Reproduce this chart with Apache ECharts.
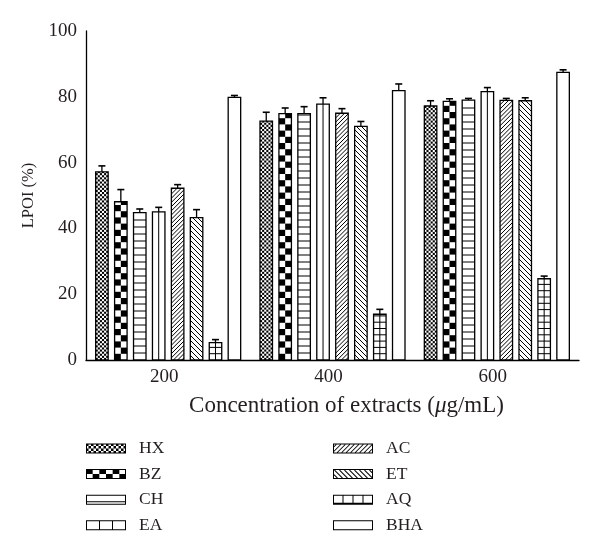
<!DOCTYPE html>
<html><head><meta charset="utf-8">
<script src="https://cdn.jsdelivr.net/npm/echarts@6/dist/echarts.min.js"></script>
<style>html,body{margin:0;padding:0;background:#fff}#c{width:600px;height:559px}</style>
</head><body><div id="c"></div>
<script>
// ---- data ----
var categories = ['200', '400', '600'];
var seriesNames = ['HX', 'BZ', 'CH', 'EA', 'AC', 'ET', 'AQ', 'BHA'];
var HX  = [57.2, 72.6, 77.2]; var HX_err  = [1.8, 2.7, 1.6];
var BZ  = [48.1, 74.9, 78.6]; var BZ_err  = [3.7, 1.7, 0.8];
var CH  = [44.8, 74.9, 79.0]; var CH_err  = [1.1, 2.1, 0.5];
var EA  = [45.0, 77.8, 81.6]; var EA_err  = [1.4, 1.9, 1.2];
var AC  = [52.2, 75.0, 78.9]; var AC_err  = [1.1, 1.4, 0.6];
var ET  = [43.3, 71.0, 78.8]; var ET_err  = [2.4, 1.5, 0.9];
var AQ  = [5.3, 13.9, 24.7];  var AQ_err  = [0.9, 1.5, 0.8];
var BHA = [79.8, 81.9, 87.4]; var BHA_err = [0.6, 2.0, 0.8];
var yTickMin = 0, yTickMax = 100, yTickStep = 20;

var seriesValues = [HX, BZ, CH, EA, AC, ET, AQ, BHA];
var seriesErrors = [HX_err, BZ_err, CH_err, EA_err, AC_err, ET_err, AQ_err, BHA_err];

// ---- style ----
var FONT = '"Liberation Serif", "DejaVu Serif", serif';
var INK = '#231f20';
var BAR_W = 0.076, PITCH = 0.1152;

function ln(x1, y1, x2, y2, w) {
  return {type: 'line', shape: {x1: x1, y1: y1, x2: x2, y2: y2}, style: {stroke: '#000', lineWidth: w || 1}};
}
function rc(x, y, w, h) {
  return {type: 'rect', shape: {x: x, y: y, width: w, height: h}, style: {fill: '#000'}};
}
function checker(x0, x1, yt, yb, sw, sh) {
  var out = [];
  for (var r = 0; yb - r * sh > yt + 0.01; r++) {
    var yB = yb - r * sh, yT = Math.max(yb - (r + 1) * sh, yt);
    for (var c = 0; x0 + c * sw < x1 - 0.01; c++) {
      if ((r + c) % 2) continue;
      var xL = x0 + c * sw, xR = Math.min(xL + sw, x1);
      out.push(rc(xL, yT, xR - xL, yB - yT));
    }
  }
  return out;
}
function hlines(x0, x1, yt, yb, sp) {
  var out = [];
  for (var y = yb - sp; y > yt + 1; y -= sp) out.push(ln(x0, y, x1, y, 1));
  return out;
}
function diagF(x0, x1, yt, yb, sp) { // "/"  x + y = k
  var out = [];
  for (var k = Math.ceil((x0 + yt) / sp) * sp; k < x1 + yb; k += sp) {
    var xa = Math.max(x0, k - yb), xb = Math.min(x1, k - yt);
    if (xb - xa > 0.3) out.push(ln(xa, k - xa, xb, k - xb, 1));
  }
  return out;
}
function diagB(x0, x1, yt, yb, sp) { // "\"  y = x + k
  var out = [];
  for (var k = Math.ceil((yt - x1) / sp) * sp; k < yb - x0; k += sp) {
    var xa = Math.max(x0, yt - k), xb = Math.min(x1, yb - k);
    if (xb - xa > 0.3) out.push(ln(xa, xa + k, xb, xb + k, 1));
  }
  return out;
}
var barPatterns = [
  function (x0, x1, yt, yb) { return checker(x0, x1, yt, yb, 2.1, 2.1); },
  function (x0, x1, yt, yb) { return checker(x0, x1, yt, yb, (x1 - x0) / 2, 6.2); },
  function (x0, x1, yt, yb) { return hlines(x0, x1, yt, yb, 7); },
  function (x0, x1, yt, yb) { var cx = (x0 + x1) / 2; return [ln(cx, yt, cx, yb, 1)]; },
  function (x0, x1, yt, yb) { return diagF(x0, x1, yt, yb, 4.2); },
  function (x0, x1, yt, yb) { return diagB(x0, x1, yt, yb, 5); },
  function (x0, x1, yt, yb) { var cx = (x0 + x1) / 2; return hlines(x0, x1, yt, yb, 6.3).concat([ln(cx, yt, cx, yb, 1)]); },
  function () { return []; }
];

function makeRender(si) {
  return function (params, api) {
    var cat = api.value(0), val = api.value(1), err = api.value(2);
    var band = api.size([1, 0])[0];
    var base = api.coord([cat, 0]);
    var bw = band * BAR_W;
    var cx = base[0] + (si - 3.5) * band * PITCH;
    var x0 = cx - bw / 2, x1 = cx + bw / 2;
    var yb = base[1], yt = api.coord([cat, val])[1], ye = api.coord([cat, val + err])[1];
    var children = [{type: 'rect', shape: {x: x0, y: yt, width: bw, height: yb - yt}, style: {fill: '#fff'}}];
    children = children.concat(barPatterns[si](x0, x1, yt, yb));
    children.push({type: 'rect', shape: {x: x0, y: yt, width: bw, height: yb - yt}, style: {fill: 'none', stroke: '#000', lineWidth: 1.3}});
    children.push(ln(cx, yt, cx, ye, 1.3));
    children.push(ln(cx - 3.5, ye, cx + 3.5, ye, 1.6));
    return {type: 'group', children: children};
  };
}

// ---- legend icons (path) ----
var IW = 40, IH = 10;
function P(x, y, w, h) { return 'M' + x + ' ' + y + 'L' + (x + w) + ' ' + y + 'L' + (x + w) + ' ' + (y + h) + 'L' + x + ' ' + (y + h) + 'Z'; }
function border(b) { b = b || 1; return P(0, 0, IW, 1) + P(0, IH - b, IW, b) + P(0, 0, 1, IH) + P(IW - 1, 0, 1, IH); }
function quad(xa, ya, xb, yb, w) {
  var dx = xb - xa, dy = yb - ya, L = Math.sqrt(dx * dx + dy * dy);
  var nx = -dy / L * w / 2, ny = dx / L * w / 2;
  var pts = [[xa + nx, ya + ny], [xb + nx, yb + ny], [xb - nx, yb - ny], [xa - nx, ya - ny]];
  var a = 0;
  for (var i = 0; i < 4; i++) { var p = pts[i], q = pts[(i + 1) % 4]; a += p[0] * q[1] - q[0] * p[1]; }
  if (a < 0) pts.reverse();
  return 'M' + pts.map(function (p) { return p[0].toFixed(2) + ' ' + p[1].toFixed(2); }).join('L') + 'Z';
}
function iconChecker(sw, sh) {
  var s = border();
  for (var r = 0; r * sh < IH - 0.01; r++) for (var c = 0; c * sw < IW - 0.01; c++) {
    if ((r + c) % 2) continue;
    s += P(c * sw, r * sh, Math.min(sw, IW - c * sw), Math.min(sh, IH - r * sh));
  }
  return 'path://' + s;
}
function iconDiag(sp, dir) {
  var s = border(), x0 = 1, x1 = IW - 1, yt = 1, yb = IH - 1, k, xa, xb;
  if (dir > 0) {
    for (k = x0 + yt + sp / 2; k < x1 + yb; k += sp) {
      xa = Math.max(x0, k - yb); xb = Math.min(x1, k - yt);
      if (xb - xa > 0.5) s += quad(xa, k - xa, xb, k - xb, 1);
    }
  } else {
    for (k = yt - x1 + sp / 2; k < yb - x0; k += sp) {
      xa = Math.max(x0, yt - k); xb = Math.min(x1, yb - k);
      if (xb - xa > 0.5) s += quad(xa, xa + k, xb, xb + k, 1);
    }
  }
  return 'path://' + s;
}
var legendIcons = {
  HX: iconChecker(2.5, 2.5),
  BZ: iconChecker(IW / 6, 5),
  CH: 'path://' + border() + P(0, 6.5, IW, 1),
  EA: 'path://' + border() + P(13, 0, 1, IH) + P(26, 0, 1, IH),
  AC: iconDiag(4.5, 1),
  ET: iconDiag(5, -1),
  AQ: 'path://' + border(2) + P(9.5, 0, 1, IH) + P(19.5, 0, 1, IH) + P(29.5, 0, 1, IH),
  BHA: 'path://' + border()
};

function legendCfg(left, names) {
  return {
    orient: 'vertical', left: left, top: 437, itemWidth: IW, itemHeight: IH, itemGap: 2.6,
    selectedMode: false, padding: 0,
    textStyle: {fontFamily: FONT, fontSize: 17.5, color: INK, lineHeight: 20, padding: [3, 0, 0, 8]},
    itemStyle: {borderWidth: 0},
    data: names.map(function (n) { return {name: n, icon: legendIcons[n]}; })
  };
}

var chart = echarts.init(document.getElementById('c'), null, {renderer: 'canvas'});
chart.setOption({
  animation: false,
  backgroundColor: '#fff',
  grid: {left: 86, right: 21, top: 31, bottom: 199, outerBoundsMode: 'none', containLabel: false},
  legend: [legendCfg(86, seriesNames.slice(0, 4)), legendCfg(333, seriesNames.slice(4))],
  xAxis: {
    type: 'category', data: categories,
    axisLine: {lineStyle: {color: '#000', width: 1.3}},
    axisTick: {show: false},
    axisLabel: {fontFamily: FONT, fontSize: 19, color: INK, margin: 8, padding: [0, 8, 0, 0]},
    name: 'Concentration of extracts ({it|\u03bc}g/mL)',
    nameLocation: 'middle', nameGap: 34,
    nameTextStyle: {fontFamily: FONT, fontSize: 23, color: INK, padding: [0, 0, 0, 28],
      rich: {it: {fontFamily: FONT, fontSize: 23, color: INK, fontStyle: 'italic'}}}
  },
  yAxis: {
    type: 'value', min: yTickMin, max: yTickMax, interval: yTickStep,
    axisLine: {show: true, lineStyle: {color: '#000', width: 1.3}},
    axisTick: {show: false},
    splitLine: {show: false},
    axisLabel: {fontFamily: FONT, fontSize: 19, color: INK, margin: 9},
    name: 'LPOI (%)', nameLocation: 'middle', nameGap: 47,
    nameTextStyle: {fontFamily: FONT, fontSize: 16.5, color: INK}
  },
  series: seriesNames.map(function (name, i) {
    return {
      type: 'custom', name: name, silent: true,
      itemStyle: {color: '#000', borderWidth: 0},
      renderItem: makeRender(i),
      encode: {x: 0, y: 1},
      data: categories.map(function (c, j) { return [j, seriesValues[i][j], seriesErrors[i][j]]; })
    };
  })
});
</script>
</body></html>
